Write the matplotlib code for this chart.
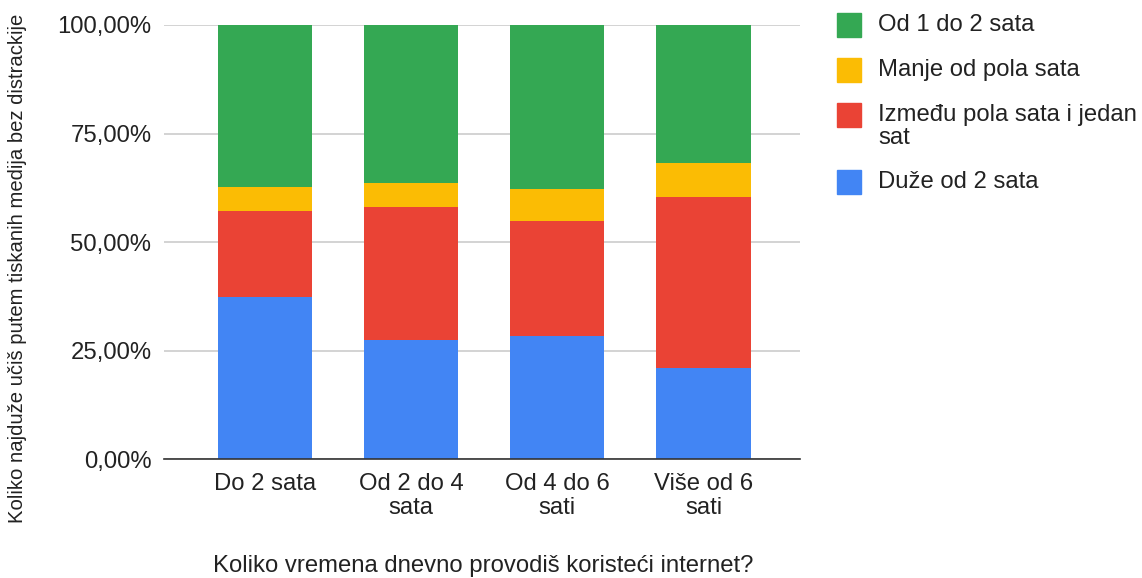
import matplotlib
matplotlib.use('Agg')
import matplotlib.pyplot as plt
from matplotlib.patches import Rectangle
from matplotlib.ticker import FuncFormatter

plt.rcParams['font.family'] = ['Liberation Sans', 'DejaVu Sans']

categories = ['Do 2 sata', 'Od 2 do 4\nsata', 'Od 4 do 6\nsati', 'Više od 6\nsati']
# stacked shares in percent, bottom to top
duze_od_2 = [37.3, 27.5, 28.5, 21.1]
izmedju = [19.9, 30.6, 26.4, 39.4]
manje_od_pola = [5.5, 5.5, 7.3, 7.7]
od_1_do_2 = [37.3, 36.4, 37.8, 31.8]

series = [
    ('Duže od 2 sata', duze_od_2, '#4285F4'),
    ('Između pola sata i jedan\nsat', izmedju, '#EA4335'),
    ('Manje od pola sata', manje_od_pola, '#FBBC04'),
    ('Od 1 do 2 sata', od_1_do_2, '#34A853'),
]

FS = 17.2
W, H = 1142, 578
fig = plt.figure(figsize=(W / 100, H / 100), dpi=100)
ax = fig.add_axes([164 / W, 1 - 459.3 / H, (800 - 164) / W, (459.3 - 25) / H])

x = list(range(len(categories)))
bottom = [0.0] * len(categories)
for name, vals, col in series:
    ax.bar(x, vals, bottom=bottom, width=0.645, color=col, zorder=2)
    bottom = [b + v for b, v in zip(bottom, vals)]

ax.set_xlim(-0.69, 3.66)
ax.set_ylim(0, 100)
ax.set_yticks([0, 25, 50, 75, 100])
ax.yaxis.set_major_formatter(FuncFormatter(lambda v, p: ('%.2f%%' % v).replace('.', ',')))
ax.set_xticks(x)
ax.set_xticklabels(categories, fontsize=FS, linespacing=1.12)
ax.tick_params(axis='y', length=0, pad=9, labelsize=FS, labelcolor='#222222')
ax.tick_params(axis='x', length=0, pad=10, labelcolor='#222222')
ax.grid(axis='y', color='#cccccc', linewidth=1.2, zorder=0)
for s in ['top', 'right', 'left']:
    ax.spines[s].set_visible(False)
ax.spines['bottom'].set_color('#333333')
ax.spines['bottom'].set_linewidth(1.2)
ax.spines['bottom'].set_zorder(3)

fig.text(483 / W, 1 - 566 / H, 'Koliko vremena dnevno provodiš koristeći internet?',
         ha='center', va='center', fontsize=FS, color='#222222')
fig.text(18 / W, 1 - 268 / H, 'Koliko najduže učiš putem tiskanih medija bez distrackije',
         ha='center', va='center', rotation=90, fontsize=14.6, color='#222222')

# legend, top to bottom (y of first text line centre, px)
leg_y = [25, 70, 115, 182]
for (name, vals, col), yy in zip(series[::-1], leg_y):
    fig.add_artist(Rectangle((837 / W, 1 - (yy + 12) / H), 24 / W, 24 / H,
                             transform=fig.transFigure, color=col))
    for i, line in enumerate(name.split('\n')):
        fig.text(878 / W, 1 - (yy + 6 + 23 * i) / H, line, ha='left', va='baseline',
                 fontsize=FS, color='#222222')

fig.savefig('out.png', dpi=100)
